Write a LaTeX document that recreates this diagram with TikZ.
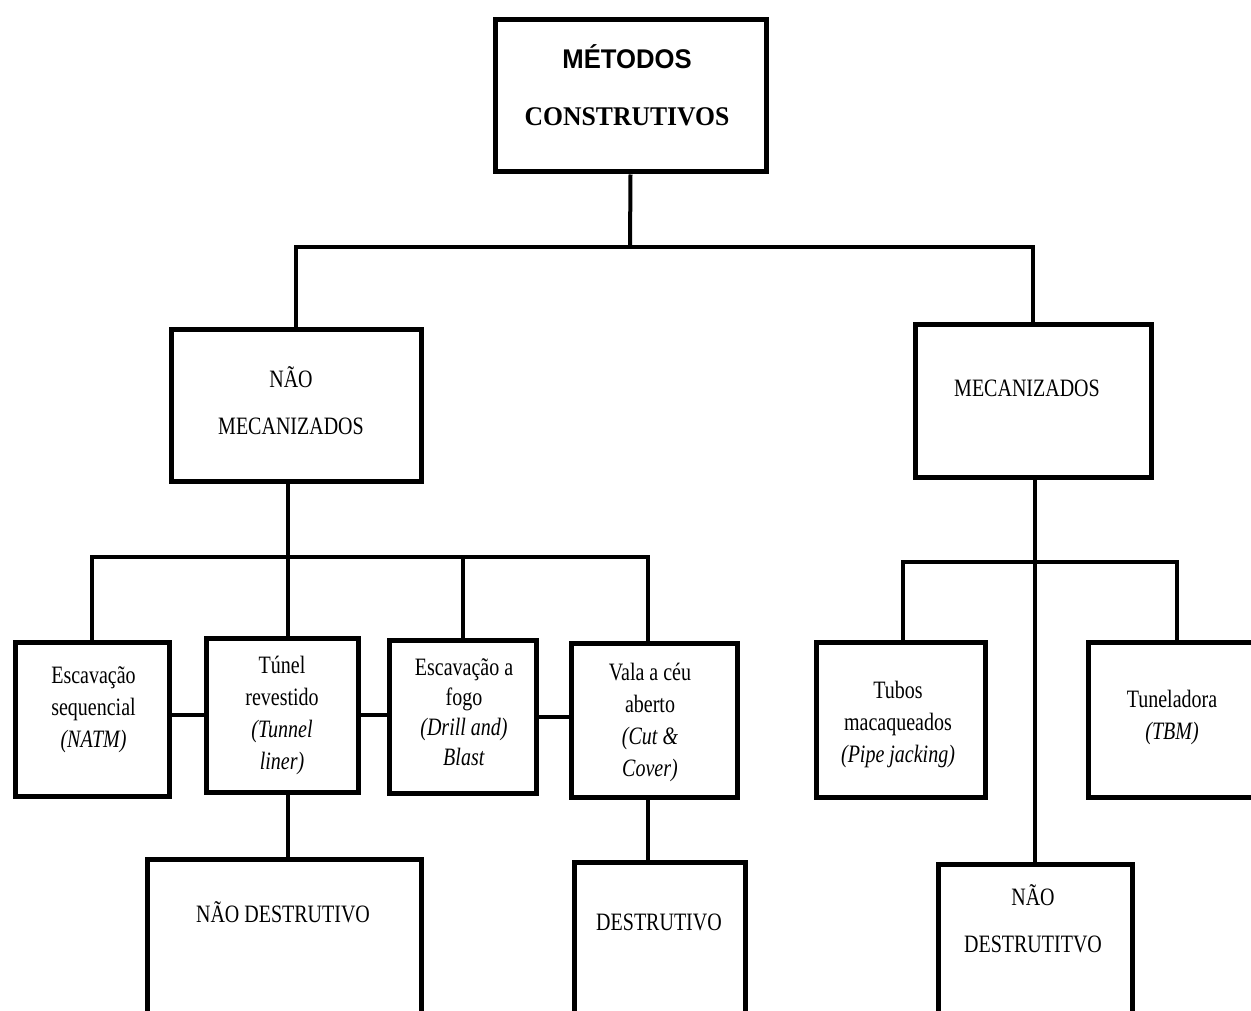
\documentclass[tikz,border=0pt]{standalone}
\usepackage{fontspec}
\setmainfont{Liberation Serif}[FakeStretch=0.8]
\newfontfamily\titlesans{Liberation Sans}[FakeStretch=0.95]
\newfontfamily\titleserif{Liberation Serif}[FakeStretch=0.95]
\begin{document}
\begin{tikzpicture}[x=1pt,y=-1pt,
  box/.style={draw=black,line width=5pt,fill=white,inner sep=0pt},
  conn/.style={draw=black,line width=4pt},
  txt/.style={align=center,inner sep=0pt,font=\fontsize{25}{32}\selectfont},
  bigtxt/.style={align=center,inner sep=0pt,font=\fontsize{25}{47}\selectfont}]
\useasboundingbox (0,0) rectangle (1251,1011);
% boxes
\node[box,minimum width=271pt,minimum height=152pt] (top) at (630.5,96) {};
\node[box,minimum width=250pt,minimum height=152pt] (nm) at (296,405) {};
\node[box,minimum width=236pt,minimum height=153pt] (mec) at (1033,400.5) {};
\node[box,minimum width=154pt,minimum height=154pt] (esc) at (92,719) {};
\node[box,minimum width=152pt,minimum height=154pt] (tun) at (282,715) {};
\node[box,minimum width=147pt,minimum height=153pt] (fogo) at (462.5,716.5) {};
\node[box,minimum width=166pt,minimum height=154pt] (vala) at (654,720) {};
\node[box,minimum width=169pt,minimum height=155pt] (tubos) at (900.5,719.5) {};
\node[box,minimum width=182pt,minimum height=155pt] (tbm) at (1179,719.5) {};
\node[box,minimum width=274pt,minimum height=181pt] (ndl) at (284,949.5) {};
\node[box,minimum width=171pt,minimum height=178pt] (des) at (659.5,951) {};
\node[box,minimum width=194pt,minimum height=176pt] (ndr) at (1035,952) {};
% junctions
\coordinate (b1) at (630,247);
\coordinate (b2) at (288,557);
\coordinate (b3) at (1035,562);
% connectors
\draw[conn] (top.south) -- (b1);
\draw[conn] (nm.north) -- (nm.north |- b1) -- (mec.north |- b1) -- (mec.north);
\draw[conn] (nm.south -| b2) -- (b2);
\draw[conn] (esc.north) |- (b2);
\draw[conn] (b2) -- (tun.north -| b2);
\draw[conn] (b2) -| ([xshift=-6pt]vala.north);
\draw[conn] (fogo.north |- b2) -- (fogo.north);
\draw[conn] (esc.east |- tun.west) -- (tun.west);
\draw[conn] (tun.east) -- (tun.east -| fogo.west);
\draw[conn] (fogo.east) -- (fogo.east -| vala.west);
\draw[conn] (tun.south -| b2) -- (ndl.north -| b2);
\draw[conn] ([xshift=-6pt]vala.south) -- ([xshift=-6pt]vala.south |- des.north);
\draw[conn] (mec.south -| b3) -- (ndr.north -| b3);
\draw[conn] ([xshift=2pt]tubos.north) |- ([xshift=-2pt]tbm.north |- b3) -- ([xshift=-2pt]tbm.north);
% texts
\node[inner sep=0pt,align=center,font=\fontsize{27}{57}\selectfont\bfseries] (ttop) at (627,85.5)
  {{\titlesans MÉTODOS}\\{\titleserif CONSTRUTIVOS}};
\node[bigtxt] (tnm) at (291,400.5) {NÃO\\MECANIZADOS};
\node[bigtxt] (tmec) at (1027,388) {MECANIZADOS};
\node[txt] (tesc) at (93.5,709.5) {Escavação\\sequencial\\\textit{(NATM)}};
\node[txt] (ttun) at (282,715.5) {Túnel\\revestido\\\textit{(Tunnel}\\\textit{liner)}};
\node[txt,font=\fontsize{25}{30}\selectfont] (tfogo) at (464,712) {Escavação a\\fogo\\\textit{(Drill and)}\\\textit{Blast}};
\node[txt] (tvala) at (650,722.5) {Vala a céu\\aberto\\\textit{(Cut \&}\\\textit{Cover)}};
\node[txt] (ttubos) at (898,724.5) {Tubos\\macaqueados\\\textit{(Pipe jacking)}};
\node[txt] (ttbm) at (1172,717.5) {Tuneladora\\\textit{(TBM)}};
\node[bigtxt] (tndl) at (283,912) {NÃO DESTRUTIVO};
\node[bigtxt] (tdes) at (659,922) {DESTRUTIVO};
\node[bigtxt] (tndr) at (1033,919) {NÃO\\DESTRUTITVO};
\end{tikzpicture}
\end{document}
